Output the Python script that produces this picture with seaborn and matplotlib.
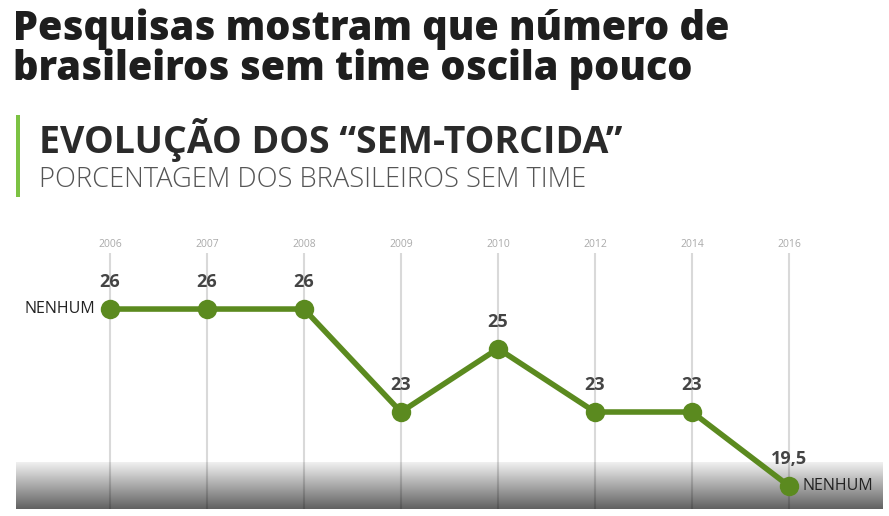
import numpy as np
import matplotlib
matplotlib.use("Agg")
import matplotlib.pyplot as plt
import seaborn as sns
from matplotlib.patches import Rectangle

# data
years = ["2006", "2007", "2008", "2009", "2010", "2012", "2014", "2016"]
values = [26, 26, 26, 23, 25, 23, 23, 19.5]
value_labels = ["26", "26", "26", "23", "25", "23", "23", "19,5"]

title = "Pesquisas mostram que número de\nbrasileiros sem time oscila pouco"
heading = "EVOLUÇÃO DOS “SEM-TORCIDA”"
subheading = "PORCENTAGEM DOS BRASILEIROS SEM TIME"
end_label = "NENHUM"

green = "#5b8a1f"
W, H = 889, 516

sns.set_style("white")
plt.rcParams["font.family"] = ["Open Sans", "DejaVu Sans"]

fig = plt.figure(figsize=(W / 100, H / 100), dpi=100)

# header texts
fig.text(13 / W, 1 - 9 / H, title, fontsize=28.5, fontweight="heavy",
         color="#1e1e1e", va="top", linespacing=0.93)
fig.add_artist(Rectangle((16 / W, 1 - 197 / H), 4 / W, 82 / H,
                         transform=fig.transFigure, color="#7cc243", lw=0))
fig.text(39 / W, 1 - 153 / H, heading, fontsize=27, fontweight="bold",
         color="#2a2a2a", va="baseline")
fig.text(39 / W, 1 - 187 / H, subheading, fontsize=19.6, fontweight="light",
         color="#555555", va="baseline")

# plot area: top at 253px, bottom at 509px
ax = fig.add_axes([0, 1 - 509 / H, 1, 256 / H])

# the original spacing is compressed toward low values
a = 0.15
ax.set_yscale("function", functions=(lambda v: np.exp(a * v),
                                     lambda f: np.log(np.clip(f, 1e-9, None)) / a))

pos = np.arange(len(years))
sns.lineplot(x=pos, y=values, ax=ax, color=green, linewidth=4, marker="o",
             markersize=14, markeredgewidth=0, zorder=3)

# bottom shading
grad = np.zeros((100, 2, 4))
grad[..., 3] = np.linspace(0.62, 0.06, 100)[:, None]
ax.imshow(grad, extent=[16 / W, 883 / W, 0, 47 / 256], transform=ax.transAxes,
          aspect="auto", origin="lower", zorder=1)

for i, (v, lab) in enumerate(zip(values, value_labels)):
    ax.annotate(lab, (i, v), xytext=(0, 27), textcoords="offset pixels",
                ha="center", va="center", fontsize=13, fontweight="bold",
                color="#444444", zorder=4)

ax.annotate(end_label, (0, values[0]), xytext=(-15, 0), textcoords="offset pixels",
            ha="right", va="center", fontsize=11.5, color="#222222", zorder=4)
ax.annotate(end_label, (len(years) - 1, values[-1]), xytext=(13, 0),
            textcoords="offset pixels", ha="left", va="center", fontsize=11.5,
            color="#222222", zorder=4)

ax.set_xlim(-110 / 97, 7 + 100 / 97)
ax.set_ylim(17.89, 27.20)
ax.set_xticks(pos)
ax.set_xticklabels(years)
ax.xaxis.tick_top()
ax.tick_params(axis="x", length=0, pad=2, labelsize=7.5, labelcolor="#aaaaaa")
ax.set_yticks([])
ax.grid(axis="x", color="#d9d9d9", linewidth=1.5, zorder=0)
ax.set_axisbelow(True)
for s in ax.spines.values():
    s.set_visible(False)
ax.set_facecolor("none")

fig.savefig("out.png", dpi=100)
